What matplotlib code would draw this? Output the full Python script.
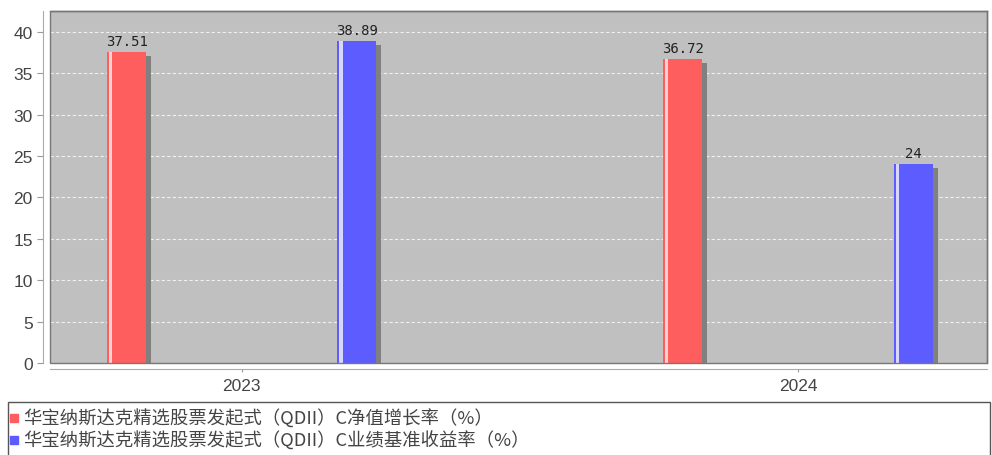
import matplotlib
matplotlib.use("Agg")
import matplotlib.pyplot as plt
import matplotlib.transforms as mtransforms
from matplotlib.patches import Rectangle
from matplotlib.lines import Line2D
import numpy as np

plt.rcParams['font.family'] = ['Liberation Sans', 'Noto Sans CJK SC', 'DejaVu Sans']

categories = ['2023', '2024']
series_names = ['华宝纳斯达克精选股票发起式（QDII）C净值增长率（%）',
                '华宝纳斯达克精选股票发起式（QDII）C业绩基准收益率（%）']
net_growth = [37.51, 36.72]
benchmark = [38.89, 24]
value_labels_net = ['37.51', '36.72']
value_labels_bm = ['38.89', '24']
y_ticks = [0, 5, 10, 15, 20, 25, 30, 35, 40]

colors = ['#FF5E5E', '#5C5CFF']
stripe_colors = ['#FFD0D0', '#D8D8FF']

W, H = 992, 456
fig = plt.figure(figsize=(W/100, H/100), dpi=100)
ax = fig.add_axes([50/W, 1-364/H, (987-50)/W, (364-12)/H])
ax.set_facecolor('#C0C0C0')

x = np.arange(len(categories))
offset = 0.207
width = 0.07
shadow_tr = mtransforms.offset_copy(ax.transData, fig=fig, x=5, y=-4, units='dots')

for vals, labels, sign, col, scol in [(net_growth, value_labels_net, -1, colors[0], stripe_colors[0]),
                                       (benchmark, value_labels_bm, 1, colors[1], stripe_colors[1])]:
    xs = x + sign * offset
    ax.bar(xs, vals, width=width, color='#808080', transform=shadow_tr, zorder=2, linewidth=0)
    ax.bar(xs, vals, width=width, color=col, zorder=3, linewidth=0)
    ax.bar(xs - width/2 + width*0.09, vals, width=width*0.08, color=scol, zorder=4, linewidth=0)
    for xi, v, lab in zip(xs, vals, labels):
        ax.annotate(lab, (xi, v), xytext=(0, 3), textcoords='offset points',
                    ha='center', va='bottom', fontsize=10, color='#222222',
                    family=['DejaVu Sans Mono'], zorder=5)

ax.set_xlim(-0.345, 1.34)
ax.set_ylim(0, 42.5)
ax.set_yticks(y_ticks)
ax.set_xticks(x)
ax.set_xticklabels(categories)
ax.yaxis.grid(True, color='#F0F0F0', linestyle=(0, (3, 2)), linewidth=0.8)
ax.set_axisbelow(True)
ax.tick_params(axis='both', colors='#999999', labelcolor='#444444', labelsize=12.5, length=4)
ax.tick_params(axis='x', length=2, pad=5)

for s in ['top', 'right']:
    ax.spines[s].set_color('#666666')
    ax.spines[s].set_linewidth(1)
ax.spines['left'].set_position(('outward', 5))
ax.spines['bottom'].set_position(('outward', 4))
ax.spines['left'].set_color('#AAAAAA')
ax.spines['bottom'].set_color('#AAAAAA')
frame = Rectangle((0, 0), 1, 1, transform=ax.transAxes, fill=False, edgecolor='#777777',
                  linewidth=1, zorder=6, clip_on=False)
ax.add_patch(frame)

# legend box
fig.patches.append(Rectangle((8/W, -0.05), (990-8)/W, 0.05 + (456-403)/H,
                             transform=fig.transFigure, fill=False, edgecolor='#555555', linewidth=1))
row_y = [419, 441]
for name, c, ry in zip(series_names, colors, row_y):
    fig.add_artist(Line2D([13.5/W], [1-ry/H], marker='s', linestyle='none', color=c,
                          markersize=5.5, transform=fig.transFigure))
    fig.text(23/W, 1-ry/H, name, ha='left', va='center', fontsize=13.2, color='#444444',
             family=['Noto Sans CJK SC', 'DejaVu Sans'])

fig.savefig('out.png', dpi=100)
